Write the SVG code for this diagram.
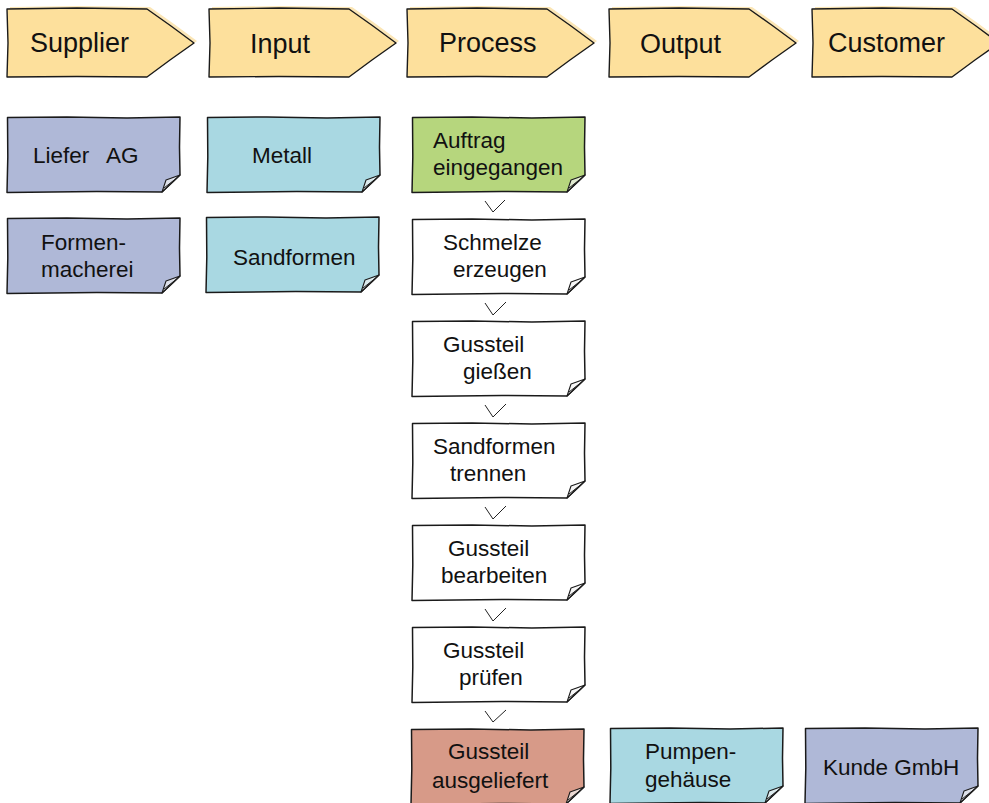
<svg xmlns="http://www.w3.org/2000/svg" xmlns:xlink="http://www.w3.org/1999/xlink" width="989" height="803" viewBox="0 0 989 803">
<style>
.chev{fill:#FDE09C;stroke:#1a1a1a;stroke-width:1.4;stroke-linejoin:round}
.shadow{fill:#FBE6B6;stroke:none}
.note{stroke:#1a1a1a;stroke-width:1.5;stroke-linejoin:round}
.flap{fill:#f4f4f4;fill-opacity:0.7;stroke:#1a1a1a;stroke-width:1.1;stroke-linejoin:round}
.purple{fill:#AFB8D7}
.teal{fill:#A9D8E2}
.green{fill:#B6D67D}
.salmon{fill:#D79A88}
.white{fill:#FFFFFF}
.ht{font-family:"Liberation Sans",Arial,sans-serif;font-size:27px;fill:#111}
.t{font-family:"Liberation Sans",Arial,sans-serif;font-size:22.5px;fill:#111}
.v{fill:none;stroke:#222;stroke-width:1}
</style>
<defs>
<path id="chevShape" d="M0,1 L70,0 L140,1 L164,18 L187,35 L163,52 L140,69 L70,68.5 L0,69 L1,35 Z"/>
<g id="noteShape">
<path class="note" d="M0.5,0.5 L60,0 L120,1 L173,0 L172.5,30 L173,58 L155,75 L90,74.5 L0,75.5 L0.8,40 Z"/>
<path class="flap" d="M155,75 L159,63 L173,58 Z"/>
<path class="v" d="M157,71 L171,60"/>
</g>
</defs>

<g id="h-supplier">
<use xlink:href="#chevShape" class="shadow" x="10" y="6"/>
<use xlink:href="#chevShape" class="chev" x="7" y="8"/>
<text class="ht" x="30" y="52">Supplier</text>
</g>
<g id="h-input">
<use xlink:href="#chevShape" class="shadow" x="212" y="6"/>
<use xlink:href="#chevShape" class="chev" x="209" y="8"/>
<text class="ht" x="250" y="53">Input</text>
</g>
<g id="h-process">
<use xlink:href="#chevShape" class="shadow" x="410" y="6"/>
<use xlink:href="#chevShape" class="chev" x="407" y="8"/>
<text class="ht" x="439" y="52">Process</text>
</g>
<g id="h-output">
<use xlink:href="#chevShape" class="shadow" x="612" y="6"/>
<use xlink:href="#chevShape" class="chev" x="609" y="8"/>
<text class="ht" x="640" y="53">Output</text>
</g>
<g id="h-customer">
<use xlink:href="#chevShape" class="shadow" x="815" y="6"/>
<use xlink:href="#chevShape" class="chev" x="812" y="8"/>
<text class="ht" x="828" y="52">Customer</text>
</g>

<g id="n-liefer">
<use xlink:href="#noteShape" class="purple" x="7" y="117"/>
<text class="t" x="33" y="163">Liefer</text><text class="t" x="106" y="163">AG</text>
</g>
<g id="n-formen">
<use xlink:href="#noteShape" class="purple" x="7" y="218"/>
<text class="t" x="41" y="250">Formen-</text>
<text class="t" x="41" y="277">macherei</text>
</g>
<g id="n-metall">
<use xlink:href="#noteShape" class="teal" x="207" y="117"/>
<text class="t" x="252" y="163">Metall</text>
</g>
<g id="n-sandformen">
<use xlink:href="#noteShape" class="teal" x="206" y="217"/>
<text class="t" x="233" y="265">Sandformen</text>
</g>

<g id="n-auftrag">
<use xlink:href="#noteShape" class="green" x="412" y="117"/>
<text class="t" x="433" y="148">Auftrag</text>
<text class="t" x="433" y="175">eingegangen</text>
</g>
<g id="n-schmelze">
<use xlink:href="#noteShape" class="white" x="412" y="219"/>
<text class="t" x="443" y="250">Schmelze</text>
<text class="t" x="453" y="277">erzeugen</text>
</g>
<g id="n-giessen">
<use xlink:href="#noteShape" class="white" x="412" y="321"/>
<text class="t" x="443" y="352">Gussteil</text>
<text class="t" x="463" y="379">gießen</text>
</g>
<g id="n-trennen">
<use xlink:href="#noteShape" class="white" x="412" y="423"/>
<text class="t" x="433" y="454">Sandformen</text>
<text class="t" x="450" y="481">trennen</text>
</g>
<g id="n-bearbeiten">
<use xlink:href="#noteShape" class="white" x="412" y="525"/>
<text class="t" x="448" y="556">Gussteil</text>
<text class="t" x="441" y="583">bearbeiten</text>
</g>
<g id="n-pruefen">
<use xlink:href="#noteShape" class="white" x="412" y="627"/>
<text class="t" x="443" y="658">Gussteil</text>
<text class="t" x="459" y="685">prüfen</text>
</g>
<g id="n-ausgeliefert">
<use xlink:href="#noteShape" class="salmon" x="411" y="729"/>
<text class="t" x="448" y="759">Gussteil</text>
<text class="t" x="432" y="788">ausgeliefert</text>
</g>
<g id="n-pumpen">
<use xlink:href="#noteShape" class="teal" x="610" y="728"/>
<text class="t" x="645" y="759">Pumpen-</text>
<text class="t" x="645" y="787">gehäuse</text>
</g>
<g id="n-kunde">
<use xlink:href="#noteShape" class="purple" x="805" y="728"/>
<text class="t" x="823" y="775">Kunde GmbH</text>
</g>

<g id="connectors">
<path class="v" d="M485,201 L493,212 L505,200"/>
<path class="v" d="M485,303 L493,315 L506,302"/>
<path class="v" d="M485,405 L493,417 L506,404"/>
<path class="v" d="M485,507 L493,519 L506,506"/>
<path class="v" d="M485,609 L493,621 L506,608"/>
<path class="v" d="M485,711 L493,722 L506,710"/>
</g>
</svg>
